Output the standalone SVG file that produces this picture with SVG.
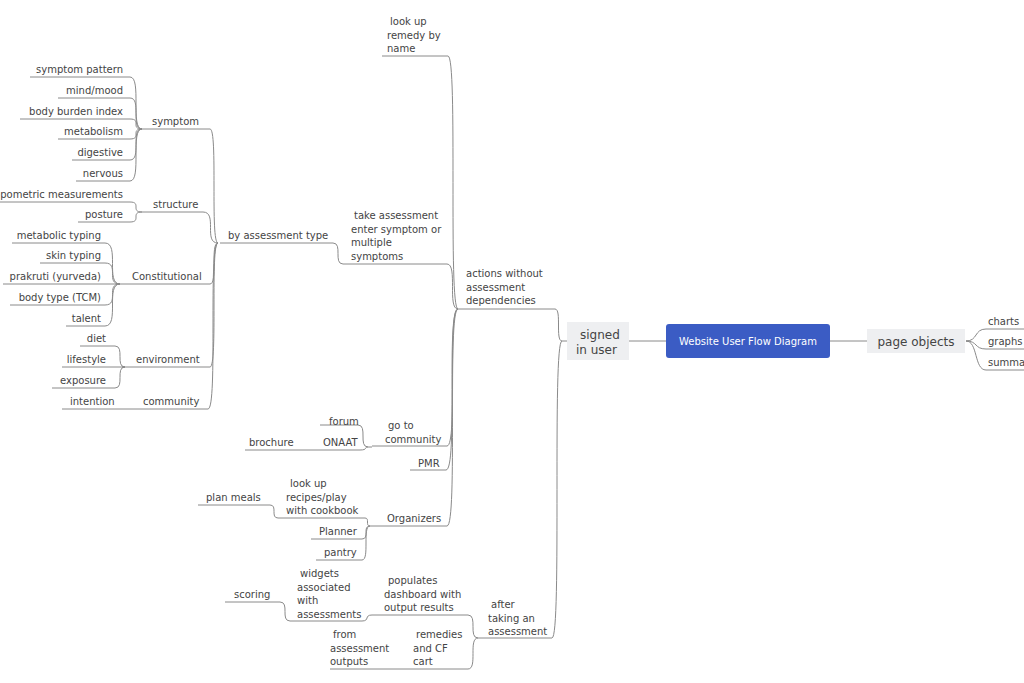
<svg xmlns="http://www.w3.org/2000/svg" width="1024" height="683" viewBox="0 0 1024 683">
<style>
.c{fill:none;stroke:#8a8a8a;stroke-width:1}
text{font-family:"DejaVu Sans",sans-serif;font-size:10px;fill:#444}
.e{text-anchor:end}
</style>
<rect width="1024" height="683" fill="#fff"/>
<g id="connectors" class="c">
<path d="M629,341 H666 M830,341 H867"/>
<path d="M966,341 C978,341 974,329 986,329 H1024 M966,341 C978,341 974,349 986,349 H1024 M966,341 C978,341 974,370 986,370 H1024"/>
<path d="M458,309 H555 C562,309 555,341 562,341 H567"/>
<path d="M478,638 H552 C562,638 552,341 562,341"/>
<path d="M382,56 H448 C458,56 448,309 458,309"/>
<path d="M343,264 H447 C458,264 447,309 458,309"/>
<path d="M372,446 H447 C458,446 447,309 458,309"/>
<path d="M410,470 H446 C458,470 446,309 458,309"/>
<path d="M372,526 H447 C458,526 447,309 458,309"/>
<path d="M220,243 H333 C343,243 333,264 343,264"/>
<path d="M148,129 H210 C218,129 210,243 218,243"/>
<path d="M148,212 H203 C218,212 203,243 218,243"/>
<path d="M122,284 H210 C218,284 210,243 218,243"/>
<path d="M122,367 H210 C218,367 210,243 218,243"/>
<path d="M62,409 H208 C218,409 208,243 218,243"/>
<path d="M30,77 H130 C142,77 130,129 142,129 H148"/>
<path d="M58,98 H130 C142,98 130,129 142,129"/>
<path d="M20,119 H130 C142,119 130,129 142,129"/>
<path d="M58,139 H130 C142,139 130,129 142,129"/>
<path d="M72,160 H130 C142,160 130,129 142,129"/>
<path d="M76,181 H130 C142,181 130,129 142,129"/>
<path d="M0,202 H130 C142,202 130,212 142,212 H148"/>
<path d="M78,222 H130 C142,222 130,212 142,212"/>
<path d="M12,243 H105 C120,243 105,284 120,284 H122"/>
<path d="M40,263 H105 C120,263 105,284 120,284"/>
<path d="M3,284 H120"/>
<path d="M10,305 H105 C120,305 105,284 120,284"/>
<path d="M66,326 H105 C120,326 105,284 120,284"/>
<path d="M80,346 H115 C125,346 115,367 125,367 H122"/>
<path d="M62,367 H125"/>
<path d="M52,388 H115 C125,388 115,367 125,367"/>
<path d="M320,425 H358 C368,425 358,447 368,447 H372"/>
<path d="M245,450 H360 C368,450 364,447 368,447"/>
<path d="M198,505 H270 C278,505 270,518 278,518 H365 C370,518 365,526 370,526 H372"/>
<path d="M311,539 H362 C370,539 362,526 370,526"/>
<path d="M316,560 H362 C370,560 362,526 370,526"/>
<path d="M372,615 H468 C478,615 468,638 478,638"/>
<path d="M330,669 H468 C478,669 468,638 478,638"/>
<path d="M225,602 H280 C290,602 280,621 290,621 H362 C370,621 364,615 372,615"/>
</g>
<g id="center"><rect x="666" y="324" width="164" height="34" rx="3" fill="#3b5cc4"/><text x="748" y="345" text-anchor="middle" style="fill:#fff">Website User Flow Diagram</text></g>
<g id="signed"><rect x="567" y="322" width="62" height="38" fill="#eeeff1"/><text x="580" y="339" style="font-size:12px">signed</text><text x="576" y="354" style="font-size:12px">in user</text></g>
<g id="pageobjects"><rect x="867" y="329" width="98" height="24" fill="#eeeff1"/><text x="916" y="346" text-anchor="middle" style="font-size:12px">page objects</text></g>
<g id="charts"><text x="988" y="325">charts</text></g>
<g id="graphs"><text x="988" y="345">graphs</text></g>
<g id="summa"><text x="988" y="366">summary</text></g>
<g id="actions"><text x="466" y="277">actions without</text><text x="466" y="291">assessment</text><text x="466" y="304">dependencies</text></g>
<g id="after"><text x="491" y="608">after</text><text x="488" y="622">taking an</text><text x="488" y="635">assessment</text></g>
<g id="lookup"><text x="390" y="25">look up</text><text x="387" y="39">remedy by</text><text x="387" y="52">name</text></g>
<g id="take"><text x="354" y="219">take assessment</text><text x="351" y="233">enter symptom or</text><text x="351" y="246">multiple</text><text x="351" y="260">symptoms</text></g>
<g id="gotocomm"><text x="388" y="429">go to</text><text x="385" y="443">community</text></g>
<g id="pmr"><text x="418" y="467">PMR</text></g>
<g id="organizers"><text x="387" y="522">Organizers</text></g>
<g id="byassess"><text x="228" y="239">by assessment type</text></g>
<g id="symptom"><text x="152" y="125">symptom</text></g>
<g id="structure"><text x="153" y="208">structure</text></g>
<g id="constitutional"><text x="132" y="280">Constitutional</text></g>
<g id="environment"><text x="136" y="363">environment</text></g>
<g id="community"><text x="143" y="405">community</text></g>
<g id="sp"><text class="e" x="123" y="73">symptom pattern</text></g>
<g id="mm"><text class="e" x="123" y="94">mind/mood</text></g>
<g id="bbi"><text class="e" x="123" y="115">body burden index</text></g>
<g id="met"><text class="e" x="123" y="135">metabolism</text></g>
<g id="dig"><text class="e" x="123" y="156">digestive</text></g>
<g id="nerv"><text class="e" x="123" y="177">nervous</text></g>
<g id="anth"><text class="e" x="123" y="198">anthropometric measurements</text></g>
<g id="post"><text class="e" x="123" y="218">posture</text></g>
<g id="mt"><text class="e" x="101" y="239">metabolic typing</text></g>
<g id="st"><text class="e" x="101" y="259">skin typing</text></g>
<g id="pk"><text class="e" x="101" y="280">prakruti (yurveda)</text></g>
<g id="bt"><text class="e" x="101" y="301">body type (TCM)</text></g>
<g id="tal"><text class="e" x="101" y="322">talent</text></g>
<g id="diet"><text class="e" x="106" y="342">diet</text></g>
<g id="life"><text class="e" x="106" y="363">lifestyle</text></g>
<g id="exp"><text class="e" x="106" y="384">exposure</text></g>
<g id="int"><text x="70" y="405">intention</text></g>
<g id="forum"><text x="329" y="425">forum</text></g>
<g id="onaat"><text x="323" y="446">ONAAT</text></g>
<g id="broch"><text x="249" y="446">brochure</text></g>
<g id="recipes"><text x="290" y="487">look up</text><text x="286" y="501">recipes/play</text><text x="286" y="514">with cookbook</text></g>
<g id="plan"><text x="206" y="501">plan meals</text></g>
<g id="planner"><text x="319" y="535">Planner</text></g>
<g id="pantry"><text x="324" y="556">pantry</text></g>
<g id="populates"><text x="388" y="584">populates</text><text x="384" y="598">dashboard with</text><text x="384" y="611">output results</text></g>
<g id="widgets"><text x="300" y="577">widgets</text><text x="297" y="591">associated</text><text x="297" y="604">with</text><text x="297" y="618">assessments</text></g>
<g id="scoring"><text x="234" y="598">scoring</text></g>
<g id="remedies"><text x="416" y="638">remedies</text><text x="413" y="652">and CF</text><text x="413" y="665">cart</text></g>
<g id="from"><text x="333" y="638">from</text><text x="330" y="652">assessment</text><text x="330" y="665">outputs</text></g>
</svg>
